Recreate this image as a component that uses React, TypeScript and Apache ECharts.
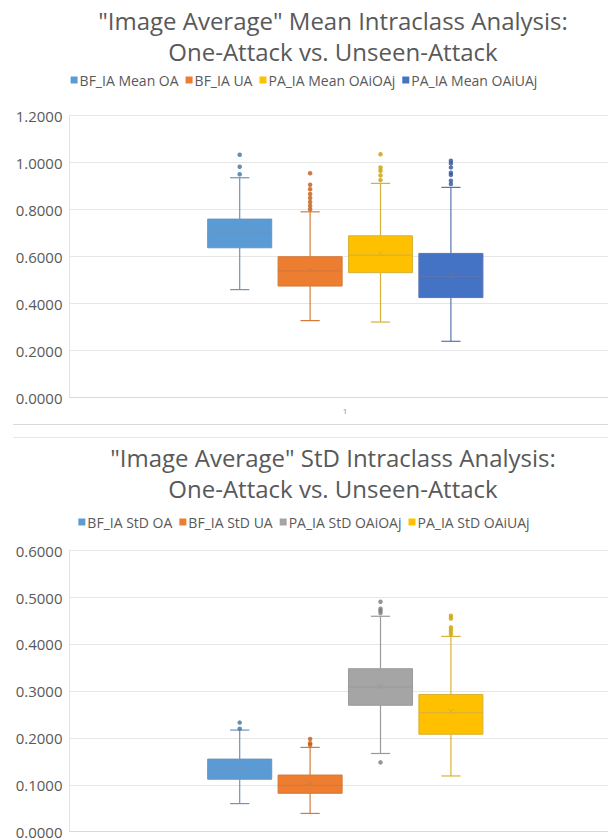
import React, { useEffect, useRef } from "react";
import * as echarts from "echarts";

// ---------- Data (top chart: Mean) ----------
const topCategories = ["BF_IA Mean OA", "BF_IA UA", "PA_IA Mean OAiOAj", "PA_IA Mean OAiUAj"];
// [min, Q1, median, Q3, max]
const topBoxes = [
  [0.46, 0.638, 0.7, 0.76, 0.936],
  [0.328, 0.475, 0.54, 0.6, 0.791],
  [0.322, 0.532, 0.607, 0.689, 0.912],
  [0.24, 0.426, 0.515, 0.614, 0.895],
];
const topMeans = [0.7, 0.543, 0.614, 0.526];
const topOutliers = [
  [1.034, 0.983, 0.951],
  [0.955, 0.906, 0.887, 0.867, 0.85, 0.833, 0.817, 0.802],
  [1.036, 0.98, 0.966, 0.946, 0.926],
  [1.008, 0.997, 0.98, 0.957, 0.948, 0.923, 0.909],
];
const topTicks = { min: 0, max: 1.2, interval: 0.2 };

// ---------- Data (bottom chart: StD) ----------
const botCategories = ["BF_IA StD OA", "BF_IA StD UA", "PA_IA StD OAiOAj", "PA_IA StD OAiUAj"];
const botBoxes = [
  [0.06, 0.112, 0.133, 0.155, 0.217],
  [0.039, 0.082, 0.099, 0.121, 0.18],
  [0.167, 0.27, 0.309, 0.348, 0.46],
  [0.119, 0.208, 0.254, 0.293, 0.417],
];
const botMeans = [0.136, 0.103, 0.31, 0.257];
const botOutliers = [
  [0.233, 0.22],
  [0.198, 0.189, 0.185],
  [0.491, 0.476, 0.472, 0.467, 0.148],
  [0.461, 0.455, 0.436, 0.429, 0.422],
];
const botTicks = { min: 0, max: 0.6, interval: 0.1 };

const xCategory = ["1"];

// ---------- Styles ----------
const topFill = ["#5B9BD5", "#ED7D31", "#FFC000", "#4472C4"];
const topLine = ["#6f93bb", "#d47a3a", "#d6b23a", "#5a74b0"];
const topDot = ["#41719c", "#c55a11", "#c9a000", "#2f5597"];
const botFill = ["#5B9BD5", "#ED7D31", "#A5A5A5", "#FFC000"];
const botLine = ["#6f93bb", "#d47a3a", "#9a9a9a", "#d6b23a"];
const botDot = ["#41719c", "#c55a11", "#7b7b7b", "#c9a000"];

const FONT = "'Open Sans', 'Noto Sans', sans-serif";
const TXT = "#595959";

const PLOT_LEFT = 69.5;
const PLOT_WIDTH = 551;
const BOX_GRID_LEFT = 204.5;
const BOX_GRID_WIDTH = 281.6;

function renderBox(fill: string, line: string) {
  return (params: any, api: any) => {
    const cat = api.value(0);
    const mn = api.value(1);
    const q1 = api.value(2);
    const med = api.value(3);
    const q3 = api.value(4);
    const mx = api.value(5);
    const mean = api.value(6);
    const x = api.coord([cat, med])[0];
    const yMin = api.coord([cat, mn])[1];
    const yQ1 = api.coord([cat, q1])[1];
    const yMed = api.coord([cat, med])[1];
    const yQ3 = api.coord([cat, q3])[1];
    const yMax = api.coord([cat, mx])[1];
    const yMean = api.coord([cat, mean])[1];
    const band = api.size([1, 0])[0];
    const bw = band * 0.91;
    const cap = bw * 0.3;
    const lineStyle = { stroke: line, lineWidth: 1.2 };
    const m = 2.5;
    return {
      type: "group",
      children: [
        { type: "line", shape: { x1: x, y1: yQ3, x2: x, y2: yMax }, style: lineStyle },
        { type: "line", shape: { x1: x, y1: yQ1, x2: x, y2: yMin }, style: lineStyle },
        { type: "line", shape: { x1: x - cap / 2, y1: yMax, x2: x + cap / 2, y2: yMax }, style: lineStyle },
        { type: "line", shape: { x1: x - cap / 2, y1: yMin, x2: x + cap / 2, y2: yMin }, style: lineStyle },
        {
          type: "rect",
          shape: { x: x - bw / 2, y: yQ3, width: bw, height: yQ1 - yQ3 },
          style: { fill, stroke: line, lineWidth: 1 },
        },
        { type: "line", shape: { x1: x - bw / 2, y1: yMed, x2: x + bw / 2, y2: yMed }, style: { stroke: line, lineWidth: 1.2 } },
        { type: "line", shape: { x1: x - m, y1: yMean - m, x2: x + m, y2: yMean + m }, style: { stroke: line, lineWidth: 1 } },
        { type: "line", shape: { x1: x - m, y1: yMean + m, x2: x + m, y2: yMean - m }, style: { stroke: line, lineWidth: 1 } },
      ],
    };
  };
}

function buildPanel(
  idx: number,
  top: number,
  height: number,
  cats: string[],
  boxes: number[][],
  means: number[],
  outliers: number[][],
  ticks: { min: number; max: number; interval: number },
  fills: string[],
  lines: string[],
  dots: string[],
  showCatLabel: boolean
) {
  const gMain = idx * 2;
  const gBox = idx * 2 + 1;
  const grids = [
    { left: PLOT_LEFT, top, width: PLOT_WIDTH, height, outerBoundsMode: "none", containLabel: false },
    { left: BOX_GRID_LEFT, top, width: BOX_GRID_WIDTH, height, outerBoundsMode: "none", containLabel: false },
  ];
  const xAxes = [
    {
      type: "category",
      gridIndex: gMain,
      data: xCategory,
      axisLine: { show: true, lineStyle: { color: "#d9d9d9" } },
      axisTick: { show: false },
      axisLabel: { show: showCatLabel, fontSize: 8, color: "#8c8c8c", margin: 9, fontFamily: FONT },
    },
    {
      type: "category",
      gridIndex: gBox,
      data: cats,
      show: false,
    },
  ];
  const yAxes = [
    {
      type: "value",
      gridIndex: gMain,
      min: ticks.min,
      max: ticks.max,
      interval: ticks.interval,
      axisLine: { show: true, lineStyle: { color: "#e3e3e3" } },
      axisTick: { show: false },
      splitLine: { show: true, lineStyle: { color: "#e6e6e6" } },
      axisLabel: {
        fontSize: 15,
        color: TXT,
        margin: 7,
        fontFamily: FONT,
        formatter: (v: number) => v.toFixed(4),
      },
    },
    {
      type: "value",
      gridIndex: gBox,
      min: ticks.min,
      max: ticks.max,
      interval: ticks.interval,
      show: false,
      splitLine: { show: false },
    },
  ];
  const xBoxIndex = idx * 2 + 1;
  const series: any[] = [];
  cats.forEach((name, i) => {
    series.push({
      type: "custom",
      name,
      xAxisIndex: xBoxIndex,
      yAxisIndex: xBoxIndex,
      itemStyle: { color: fills[i] },
      renderItem: renderBox(fills[i], lines[i]),
      encode: { x: 0, y: [1, 2, 3, 4, 5] },
      data: [[i, ...boxes[i], means[i]]],
      silent: true,
    });
  });
  cats.forEach((name, i) => {
    series.push({
      type: "scatter",
      name: name + " outliers",
      xAxisIndex: xBoxIndex,
      yAxisIndex: xBoxIndex,
      symbol: "circle",
      symbolSize: 4.5,
      itemStyle: { color: dots[i] },
      data: outliers[i].map((v) => [i, v]),
      silent: true,
    });
  });
  return { grids, xAxes, yAxes, series };
}

export default function App() {
  const ref = useRef<HTMLDivElement>(null);
  useEffect(() => {
    document.body.style.margin = "0";
    if (!ref.current) return;
    const chart = echarts.init(ref.current, undefined, { renderer: "svg" });
    const p1 = buildPanel(0, 115.7, 282, topCategories, topBoxes, topMeans, topOutliers, topTicks, topFill, topLine, topDot, true);
    const p2 = buildPanel(1, 550.7, 281, botCategories, botBoxes, botMeans, botOutliers, botTicks, botFill, botLine, botDot, false);
    const titleStyle = { fontSize: 24, fontWeight: "normal", color: TXT, fontFamily: FONT, lineHeight: 31 };
    const legendBase = {
      icon: "rect",
      itemWidth: 7,
      itemHeight: 7,
      itemGap: 7,
      textStyle: { fontSize: 14, color: TXT, fontFamily: FONT, padding: [0, 0, 0, -3] },
      orient: "horizontal",
    };
    chart.setOption({
      animation: false,
      backgroundColor: "#ffffff",
      title: [
        {
          text: '"Image Average" Mean Intraclass Analysis:\nOne-Attack vs. Unseen-Attack',
          left: 328,
          textAlign: "center",
          top: 0,
          textStyle: titleStyle,
        },
        {
          text: '"Image Average" StD Intraclass Analysis:\nOne-Attack vs. Unseen-Attack',
          left: 328,
          textAlign: "center",
          top: 437,
          textStyle: titleStyle,
        },
      ],
      legend: [
        { ...legendBase, data: topCategories, left: "center", top: 68 },
        { ...legendBase, data: botCategories, left: "center", top: 510 },
      ],
      grid: [...p1.grids, ...p2.grids],
      xAxis: [...p1.xAxes, ...p2.xAxes],
      yAxis: [...p1.yAxes, ...p2.yAxes],
      series: [...p1.series, ...p2.series],
      graphic: [
        { type: "line", shape: { x1: 13, y1: 424.5, x2: 608, y2: 424.5 }, style: { stroke: "#d9d9d9", lineWidth: 1 } },
        { type: "line", shape: { x1: 13, y1: 437.5, x2: 608, y2: 437.5 }, style: { stroke: "#e6e6e6", lineWidth: 1 } },
      ],
    });
    return () => chart.dispose();
  }, []);
  return <div ref={ref} style={{ width: 608, height: 839 }} />;
}
